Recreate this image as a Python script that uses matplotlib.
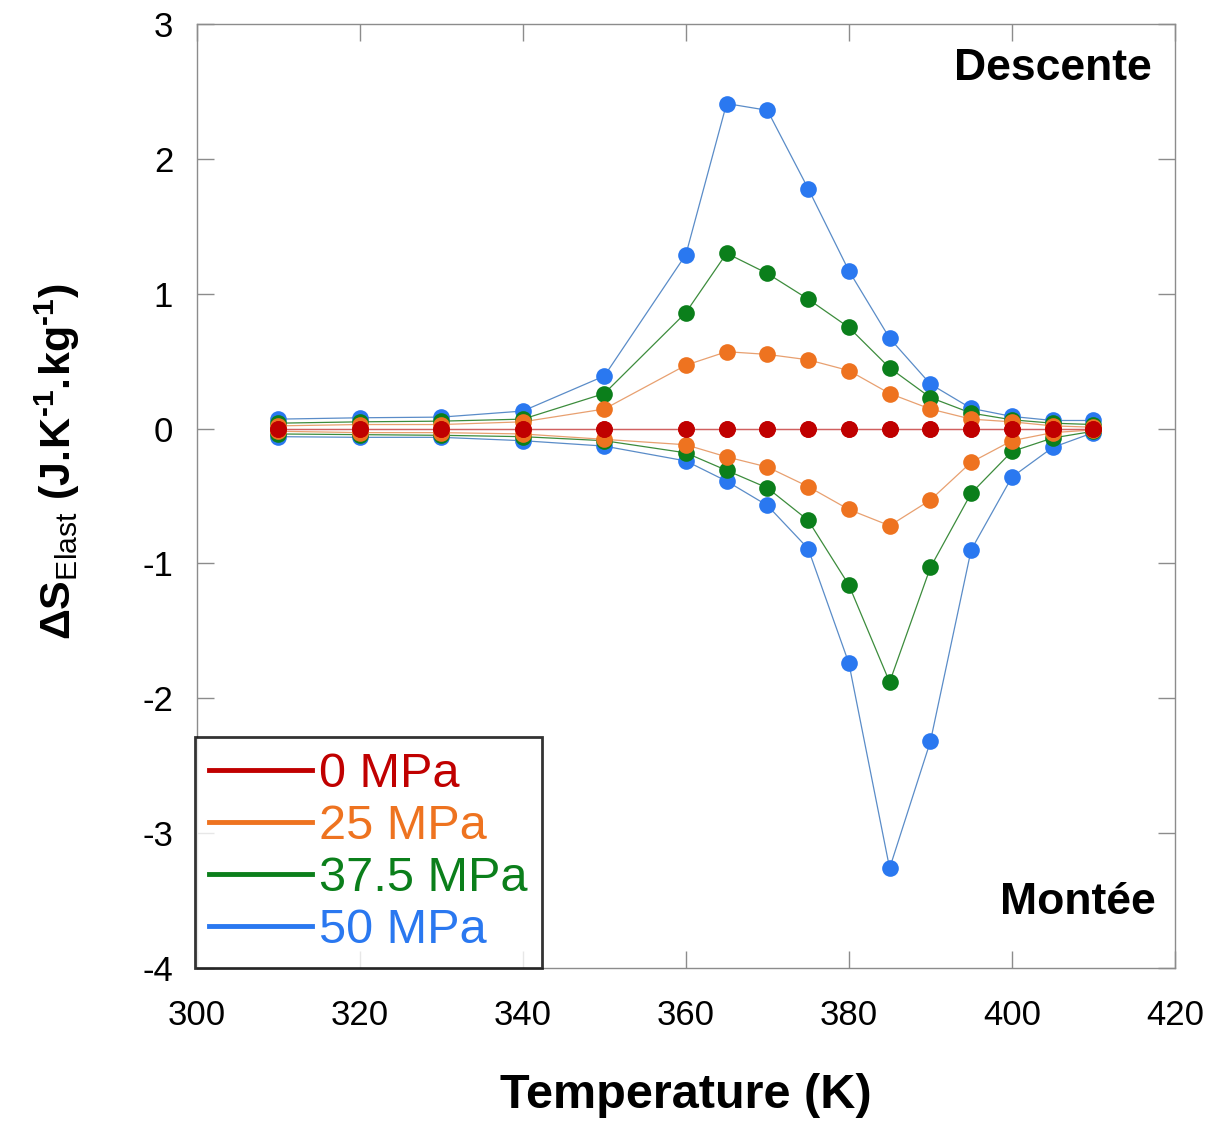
import numpy as np
import matplotlib
matplotlib.use("Agg")
import matplotlib.pyplot as plt

plt.rcParams["font.family"] = ["Liberation Sans", "DejaVu Sans"]
plt.rcParams["axes.unicode_minus"] = False
plt.rcParams["mathtext.fontset"] = "custom"
plt.rcParams["mathtext.rm"] = "Liberation Sans"
plt.rcParams["mathtext.bf"] = "Liberation Sans:bold"

# temperature points (K)
temp = [310, 320, 330, 340, 350, 360, 365, 370, 375, 380, 385, 390, 395, 400, 405, 410]

# Descente (upper branch) and Montée (lower branch), J.K-1.kg-1
s0_up = [0.0] * 16
s0_down = [0.0] * 16
s25_up = [0.02, 0.03, 0.03, 0.05, 0.145, 0.47, 0.57, 0.55, 0.51, 0.43, 0.26, 0.145, 0.07, 0.05, 0.02, 0.01]
s25_down = [-0.02, -0.03, -0.03, -0.04, -0.08, -0.12, -0.21, -0.285, -0.43, -0.60, -0.72, -0.53, -0.25, -0.09, -0.03, -0.01]
s375_up = [0.04, 0.05, 0.055, 0.07, 0.26, 0.86, 1.30, 1.15, 0.96, 0.75, 0.45, 0.23, 0.115, 0.065, 0.04, 0.03]
s375_down = [-0.04, -0.045, -0.05, -0.06, -0.09, -0.18, -0.31, -0.44, -0.68, -1.16, -1.88, -1.03, -0.48, -0.17, -0.07, -0.02]
s50_up = [0.07, 0.08, 0.085, 0.13, 0.39, 1.29, 2.41, 2.36, 1.78, 1.17, 0.67, 0.33, 0.15, 0.09, 0.06, 0.06]
s50_down = [-0.06, -0.065, -0.065, -0.09, -0.13, -0.24, -0.39, -0.57, -0.89, -1.74, -3.26, -2.32, -0.90, -0.36, -0.14, -0.03]

labels = ["0 MPa", "25 MPa", "37.5 MPa", "50 MPa"]
marker_colors = ["#C00000", "#EE7320", "#0B7F1B", "#2A78F0"]
line_colors = ["#D06060", "#E8A070", "#3C8C3C", "#5A8CC8"]

fig = plt.figure(figsize=(12.15, 11.26), dpi=100)
ax = fig.add_axes([0.162, 0.1403, 0.805, 0.8384])

series = [(s0_up, s0_down), (s25_up, s25_down), (s375_up, s375_down), (s50_up, s50_down)]
# draw the larger amplitudes first so small ones stay visible like the original
for i in [3, 2, 1, 0]:
    up, down = series[i]
    for branch in (up, down):
        ax.plot(temp, branch, color=line_colors[i], linewidth=0.9, zorder=2)
        ax.plot(temp, branch, linestyle="none", marker="o", markersize=12,
                color=marker_colors[i], markeredgewidth=0, zorder=3)

ax.set_xlim(300, 420)
ax.set_ylim(-4, 3)
ax.set_xticks(np.arange(300, 421, 20))
ax.set_yticks(np.arange(-4, 3.1, 1))

for sp in ax.spines.values():
    sp.set_color("#8c8c8c")
    sp.set_linewidth(1.0)
ax.tick_params(direction="in", length=12, width=1.0, color="#8c8c8c",
               top=True, right=True, labelsize=25, pad=17)
ax.tick_params(axis="x", pad=22)

ax.set_xlabel("Temperature (K)", fontsize=35, fontweight="bold", labelpad=30)

hy = "\u2010"
ylab = (r"$\mathbf{\Delta S}_{\mathrm{Elast}}$ "
        r"$\mathbf{(J.\!K^{" + hy + r"1}.\!kg^{" + hy + r"1})}$")
fig.text(0.047, 0.59, ylab, rotation=90, ha="center", va="center", fontsize=31)

ax.text(0.976, 0.953, "Descente", transform=ax.transAxes, ha="right", va="center",
        fontsize=32, fontweight="bold")
ax.text(0.98, 0.069, "Montée", transform=ax.transAxes, ha="right", va="center",
        fontsize=32, fontweight="bold")

handles = [plt.Line2D([], [], color=c, linewidth=3.5) for c in marker_colors]
leg = ax.legend(handles, labels, loc="lower left", bbox_to_anchor=(-0.002, 0.0),
                borderaxespad=0, fontsize=35, frameon=True, fancybox=False,
                handlelength=2.1, handletextpad=0.15, labelspacing=0.15,
                borderpad=0.3, labelcolor=marker_colors)
leg.get_frame().set_edgecolor("black")
leg.get_frame().set_linewidth(2.0)
leg.set_zorder(5)

fig.savefig("out.png", dpi=100)
